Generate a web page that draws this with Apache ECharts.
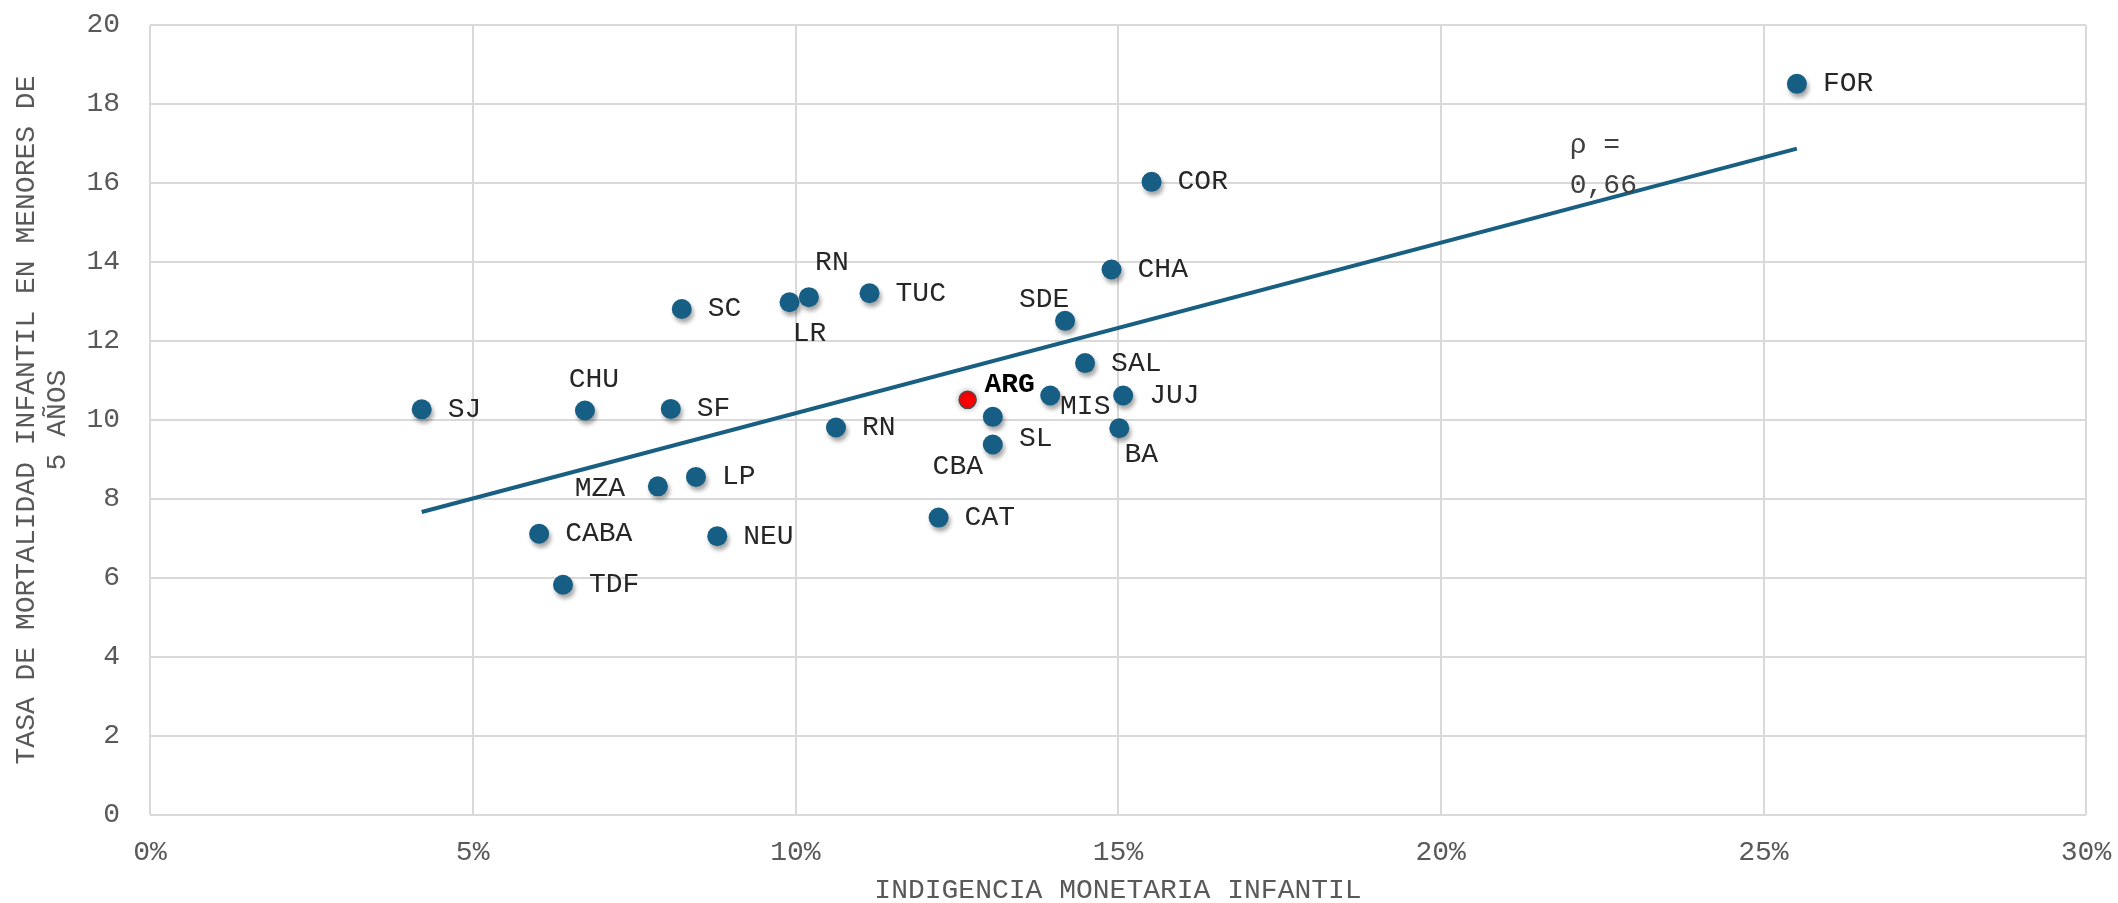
<!DOCTYPE html>
<html>
<head>
<meta charset="utf-8">
<script src="https://cdn.jsdelivr.net/npm/echarts@6/dist/echarts.min.js"></script>
<style>
  html, body { margin: 0; padding: 0; background: #fff; }
  #chart { width: 2118px; height: 903px; }
</style>
</head>
<body>
<div id="chart"></div>
<script>
// provincias
var names = ['SJ', 'CHU', 'SF', 'SC', 'LR', 'RN', 'TUC', 'SDE', 'CHA', 'COR', 'FOR', 'SAL', 'JUJ', 'MIS',
             'SL', 'CBA', 'BA', 'RN', 'LP', 'MZA', 'CABA', 'NEU', 'CAT', 'TDF'];
// indigencia monetaria infantil (%)
var indigencia = [4.21, 6.74, 8.07, 8.24, 9.91, 10.21, 11.15, 14.18, 14.90, 15.52, 25.52, 14.49, 15.08, 13.95,
                  13.06, 13.06, 15.02, 10.63, 8.46, 7.87, 6.03, 8.79, 12.22, 6.40];
// tasa de mortalidad infantil en menores de 5
var mortalidad = [10.27, 10.24, 10.28, 12.81, 12.98, 13.11, 13.21, 12.51, 13.81, 16.03, 18.51, 11.44, 10.62, 10.62,
                  10.08, 9.38, 9.79, 9.81, 8.56, 8.32, 7.12, 7.06, 7.53, 5.83];
var argPunto = [12.67, 10.51];
var tendencia = [[4.21, 7.67], [25.52, 16.87]];
var rho = '0,66';

// donde va cada etiqueta (el resto a la derecha)
var etiquetas = {
    1: [9, -31], 4: [20, 31], 5: [23, -35], 7: [-21, -21], 13: [35, 11],
    14: [43, 22], 15: [-35, 22], 16: [22, 26], 19: [-58, 2]
};

var fuente = "'Courier New', 'Liberation Mono', monospace";
var azul = '#175e85';

var puntos = names.map(function (n, i) {
    var item = { name: n, value: [indigencia[i], mortalidad[i]] };
    if (etiquetas[i]) {
        item.label = { position: 'inside', offset: etiquetas[i] };
    }
    return item;
});

var chart = echarts.init(document.getElementById('chart'));
var option = {
    animation: false,
    textStyle: { fontFamily: fuente },
    grid: { left: 150, right: 32, top: 25, bottom: 88, containLabel: false, outerBoundsMode: 'none' },
    xAxis: {
        type: 'value', min: 0, max: 30, interval: 5,
        name: 'INDIGENCIA MONETARIA INFANTIL',
        nameLocation: 'middle', nameGap: 62,
        nameTextStyle: { fontFamily: fuente, fontSize: 28, color: '#595959' },
        axisLine: { show: false },
        axisTick: { show: false },
        axisLabel: { formatter: '{value}%', fontFamily: fuente, fontSize: 28, color: '#595959', margin: 24 },
        splitLine: { lineStyle: { color: '#d9d9d9', width: 2 } }
    },
    yAxis: {
        type: 'value', min: 0, max: 20, interval: 2,
        name: 'TASA DE MORTALIDAD INFANTIL EN MENORES DE\n5 AÑOS',
        nameLocation: 'middle', nameGap: 77,
        nameTextStyle: { fontFamily: fuente, fontSize: 28, color: '#595959', lineHeight: 31 },
        axisLine: { show: false },
        axisTick: { show: false },
        axisLabel: { fontFamily: fuente, fontSize: 28, color: '#595959', margin: 30 },
        splitLine: { lineStyle: { color: '#d9d9d9', width: 2 } }
    },
    series: [
        {
            type: 'line',
            data: tendencia,
            symbol: 'none',
            lineStyle: { color: '#185f82', width: 4 },
            z: 2,
            markPoint: {
                symbol: 'circle', symbolSize: 0,
                data: [{ coord: [22.0, 16.45], value: rho }],
                label: {
                    show: true, position: 'right', distance: 0,
                    formatter: function (p) { return 'ρ =\n' + p.value; },
                    fontFamily: fuente, fontSize: 28, color: '#404040', lineHeight: 40, align: 'left'
                }
            }
        },
        {
            type: 'scatter',
            data: puntos,
            symbolSize: 20,
            z: 3,
            itemStyle: {
                color: azul, opacity: 1,
                shadowBlur: 4, shadowOffsetX: 2, shadowOffsetY: 4, shadowColor: 'rgba(0,0,0,0.35)'
            },
            label: {
                show: true, position: 'right', distance: 16,
                formatter: '{b}',
                fontFamily: fuente, fontSize: 28, color: '#262626'
            }
        },
        {
            type: 'scatter',
            data: [{ name: 'ARG', value: argPunto }],
            symbolSize: 17,
            z: 4,
            itemStyle: {
                color: '#ff0000', borderColor: '#4a4a4a', borderWidth: 1.5, opacity: 1,
                shadowBlur: 6, shadowColor: 'rgba(0,0,0,0.3)'
            },
            label: {
                show: true, position: 'inside', offset: [42, -15],
                formatter: '{b}',
                fontFamily: fuente, fontSize: 28, fontWeight: 'bold', color: '#000'
            }
        }
    ]
};
chart.setOption(option);
</script>
</body>
</html>
